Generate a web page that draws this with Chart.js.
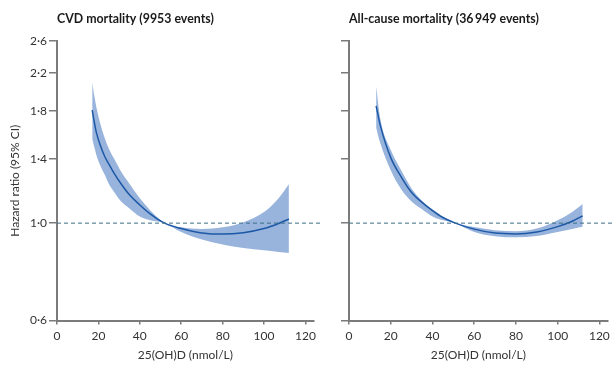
<!DOCTYPE html>
<html>
<head>
<meta charset="utf-8">
<script src="https://cdn.jsdelivr.net/npm/chart.js@4"></script>
<style>
  html, body { margin: 0; padding: 0; background: #fff; }
  #wrap { position: relative; width: 614px; height: 368px; }
  #cvdChart { position: absolute; left: 0; top: 0; }
  #allChart { position: absolute; left: 320px; top: 0; }
</style>
</head>
<body>
<div id="wrap">
  <canvas id="cvdChart" width="320" height="368"></canvas>
  <canvas id="allChart" width="294" height="368"></canvas>
</div>
<script>
// CVD mortality: 25(OH)D (nmol/L) vs hazard ratio
var cvdDose  = [17, 18, 19, 21, 23, 25, 28, 31, 35, 40, 45, 52, 60, 70, 80, 90, 100, 107, 112];
var cvdHR    = [1.81, 1.70, 1.61, 1.50, 1.42, 1.365, 1.29, 1.228, 1.16, 1.10, 1.05, 1.0, 0.972, 0.950, 0.944, 0.951, 0.972, 0.998, 1.022];
var cvdUpper = [2.09, 1.95, 1.84, 1.68, 1.565, 1.48, 1.39, 1.31, 1.23, 1.14, 1.07, 1.0, 0.978, 0.970, 0.978, 1.005, 1.06, 1.14, 1.227];
var cvdLower = [1.555, 1.49, 1.43, 1.35, 1.29, 1.23, 1.17, 1.12, 1.08, 1.035, 1.015, 1.0, 0.955, 0.918, 0.894, 0.878, 0.867, 0.860, 0.855];

// All-cause mortality
var allDose  = [13, 15, 20, 25, 30, 35, 40, 45, 51, 60, 70, 80, 90, 100, 107, 112];
var allHR    = [1.85, 1.67, 1.41, 1.275, 1.174, 1.115, 1.068, 1.03, 1.0, 0.969, 0.949, 0.945, 0.955, 0.982, 1.01, 1.039];
var allUpper = [2.05, 1.73, 1.47, 1.32, 1.20, 1.125, 1.075, 1.035, 1.0, 0.98, 0.963, 0.958, 0.972, 1.015, 1.06, 1.105];
var allLower = [1.65, 1.52, 1.32, 1.195, 1.12, 1.075, 1.035, 1.015, 1.0, 0.955, 0.934, 0.928, 0.935, 0.955, 0.97, 0.981];

var xTicks = [0, 20, 40, 60, 80, 100, 120];
var yTicks = [0.6, 1.0, 1.4, 1.8, 2.2, 2.6];
var refHR = 1.0;

var axisColor = '#7b7b7b';
var textColor = '#333333';
var bandColor = 'rgba(152, 180, 221, 1)';
var lineColor = '#1d58a6';
var dashColor = '#3c6c84';

function toPoints(xs, ys) {
    return xs.map(function(x, i) {
        return { x: x, y: ys[i] };
    });
}

// bold panel heading drawn at the left edge of the plot area
var panelTitle = {
    id: 'panelTitle',
    afterDraw: function(chart, args, opts) {
        var ctx = chart.ctx;
        ctx.save();
        ctx.font = 'bold 13px Lato';
        ctx.fillStyle = '#1a1a1a';
        ctx.textBaseline = 'middle';
        ctx.translate(chart.chartArea.left, 19);
        ctx.scale(0.95, 1);
        ctx.fillText(opts.text, 0, 0);
        ctx.restore();
    }
};

// dashed line at HR = 1
var refLine = {
    id: 'refLine',
    afterDatasetsDraw: function(chart) {
        var ctx = chart.ctx;
        var y = chart.scales.y.getPixelForValue(refHR);
        ctx.save();
        ctx.strokeStyle = dashColor;
        ctx.lineWidth = 1;
        ctx.setLineDash([4, 3]);
        ctx.beginPath();
        ctx.moveTo(chart.chartArea.left, y);
        ctx.lineTo(chart.width, y);
        ctx.stroke();
        ctx.restore();
    }
};

function drawPanel(id, title, dose, hr, upper, lower, opts) {
    var ctx = document.getElementById(id).getContext('2d');
    return new Chart(ctx, {
        type: 'line',
        data: {
            datasets: [{
                data: toPoints(dose, hr),
                borderColor: lineColor,
                borderWidth: 1.5,
                pointRadius: 0,
                fill: false,
                cubicInterpolationMode: 'monotone'
            }, {
                data: toPoints(dose, upper),
                borderWidth: 0,
                pointRadius: 0,
                backgroundColor: bandColor,
                fill: '+1',
                cubicInterpolationMode: 'monotone'
            }, {
                data: toPoints(dose, lower),
                borderWidth: 0,
                pointRadius: 0,
                fill: false,
                cubicInterpolationMode: 'monotone'
            }]
        },
        options: {
            responsive: false,
            animation: false,
            layout: { padding: { top: 41, right: opts.padRight, left: 0, bottom: 0 } },
            plugins: {
                legend: { display: false },
                tooltip: { enabled: false },
                panelTitle: { text: title }
            },
            scales: {
                x: {
                    type: 'linear',
                    min: 0,
                    max: 124,
                    afterBuildTicks: function(scale) {
                        scale.ticks = xTicks.map(function(v) { return { value: v }; });
                    },
                    afterFit: function(scale) { scale.height = 47.5; },
                    grid: { drawOnChartArea: false, tickLength: 4, color: axisColor, lineWidth: 1.5 },
                    border: { color: axisColor, width: 2 },
                    ticks: { padding: 4, color: textColor, font: { family: 'Lato', size: 12 } },
                    title: {
                        display: true,
                        text: '25(OH)D (nmol/L)',
                        color: textColor,
                        font: { family: 'Lato', size: 12 },
                        padding: { top: 0, bottom: 6 }
                    }
                },
                y: {
                    type: 'logarithmic',
                    min: 0.6,
                    max: 2.6,
                    afterBuildTicks: function(scale) {
                        scale.ticks = yTicks.map(function(v) { return { value: v }; });
                    },
                    afterFit: function(scale) { scale.width = opts.axisWidth; },
                    grid: { drawOnChartArea: false, tickLength: 8, color: axisColor, lineWidth: 1.5 },
                    border: { color: axisColor, width: 2 },
                    ticks: {
                        display: opts.showLabels,
                        padding: 2,
                        color: textColor,
                        font: { family: 'Lato', size: 12 },
                        callback: function(v) { return v.toFixed(1).replace('.', '\u00b7'); }
                    },
                    title: {
                        display: opts.showLabels,
                        text: 'Hazard ratio (95% CI)',
                        color: textColor,
                        font: { family: 'Lato', size: 12 },
                        padding: { top: 8, bottom: 0 }
                    }
                }
            }
        },
        plugins: [panelTitle, refLine]
    });
}

drawPanel('cvdChart', 'CVD mortality (9953 events)', cvdDose, cvdHR, cvdUpper, cvdLower,
    { axisWidth: 57, padRight: 2.6, showLabels: true });
drawPanel('allChart', 'All-cause mortality (36\u2009949 events)', allDose, allHR, allUpper, allLower,
    { axisWidth: 29, padRight: 5.4, showLabels: false });
</script>
</body>
</html>
